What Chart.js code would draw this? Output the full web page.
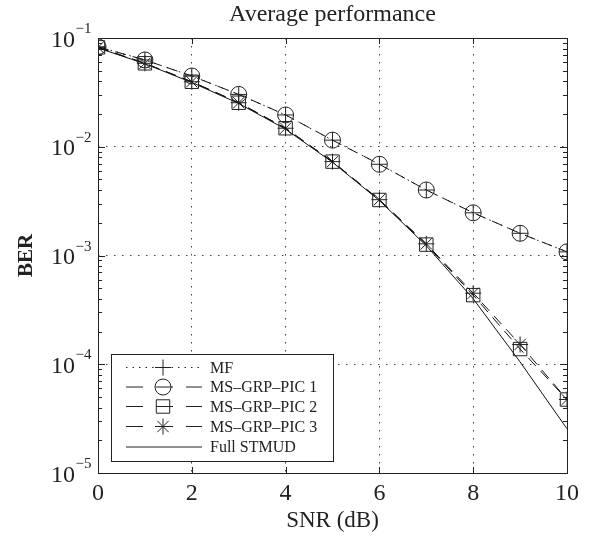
<!DOCTYPE html>
<html>
<head>
<meta charset="utf-8">
<script src="https://cdn.jsdelivr.net/npm/chart.js@4.4.0/dist/chart.umd.min.js"></script>
<style>
  body { margin: 0; background: #fff; }
  #wrap { width: 589px; height: 537px; position: relative; }
</style>
</head>
<body>
<div id="wrap"><canvas id="c"></canvas></div>
<script>
// SNR points (dB)
const snr = [0, 1, 2, 3, 4, 5, 6, 7, 8, 9, 10];
// BER
const berMF    = [0.083, 0.0628, 0.0447, 0.0303, 0.0196, 0.0115, 0.0069, 0.0040, 0.00247, 0.0016, 0.00108];
const berPIC1  = [0.083, 0.0628, 0.0447, 0.0303, 0.0196, 0.0115, 0.0069, 0.0040, 0.00247, 0.0016, 0.00108];
const berPIC2  = [0.082, 0.0585, 0.0396, 0.0254, 0.0148, 0.0073, 0.00324, 0.00126, 0.000432, 0.000138, 0.0000474];
const berPIC3  = [0.082, 0.0585, 0.0396, 0.0254, 0.0148, 0.0073, 0.00326, 0.00128, 0.00045, 0.000152, 0.0000474];
const berFull  = [0.081, 0.058, 0.039, 0.025, 0.0145, 0.0072, 0.0032, 0.00123, 0.00040, 0.000105, 0.0000255];
const seriesNames = ['MF', 'MS\u2013GRP\u2013PIC 1', 'MS\u2013GRP\u2013PIC 2', 'MS\u2013GRP\u2013PIC 3', 'Full STMUD'];
const xTicks = [0, 2, 4, 6, 8, 10];
const yDecades = [-5, -4, -3, -2, -1];

const SERIF = "'Liberation Serif', 'Times New Roman', serif";

function pts(ys) { return snr.map((x, i) => ({ x, y: ys[i] })); }

function ds(label, ys, dash, style, r) {
  return {
    label, data: pts(ys), borderColor: '#111', borderWidth: 1, borderDash: dash,
    pointStyle: style, pointRadius: r, pointHoverRadius: r, pointBorderWidth: 1,
    pointBorderColor: '#222', pointBackgroundColor: 'rgba(0,0,0,0)', tension: 0, fill: false
  };
}

const styles = [
  { dash: [1.5, 5], style: 'cross', r: 8 },
  { dash: [11, 7], style: 'circle', r: 8 },
  { dash: [11, 7], style: 'rect', r: 9.5 },
  { dash: [11, 7], style: 'star', r: 8 },
  { dash: [], style: false, r: 0 }
];
const allSeries = [berMF, berPIC1, berPIC2, berPIC3, berFull];

const isDecade = v => Math.abs(Math.log10(v) - Math.round(Math.log10(v))) < 1e-6;

const framePlugin = {
  id: 'frame',
  afterDraw(chart) {
    const { ctx, chartArea: a, scales } = chart;
    const xs = scales.x, ys = scales.y;
    ctx.save();
    ctx.strokeStyle = '#222';
    ctx.lineWidth = 1;
    ctx.setLineDash([]);
    ctx.strokeRect(a.left + 0.5, a.top + 0.5, a.right - a.left, a.bottom - a.top);
    ctx.beginPath();
    xTicks.forEach(t => {
      const px = Math.round(xs.getPixelForValue(t)) + 0.5;
      ctx.moveTo(px, a.bottom); ctx.lineTo(px, a.bottom - 6);
      ctx.moveTo(px, a.top); ctx.lineTo(px, a.top + 6);
    });
    yDecades.forEach(e => {
      for (let m = 1; m < 10; m++) {
        if (e === -1 && m > 1) break;
        const py = Math.round(ys.getPixelForValue(m * Math.pow(10, e))) + 0.5;
        const len = m === 1 ? 7 : 4;
        ctx.moveTo(a.left, py); ctx.lineTo(a.left + len, py);
        ctx.moveTo(a.right, py); ctx.lineTo(a.right - len, py);
      }
    });
    ctx.stroke();

    // y tick labels with superscript exponents
    ctx.fillStyle = '#222';
    yDecades.forEach(e => {
      const py = ys.getPixelForValue(Math.pow(10, e));
      ctx.font = '24px ' + SERIF;
      ctx.textAlign = 'right';
      ctx.textBaseline = 'alphabetic';
      ctx.fillText('10', 75, py + 8.5);
      ctx.font = '15px ' + SERIF;
      ctx.textAlign = 'left';
      ctx.fillText('\u2212' + Math.abs(e), 75.5, py - 5);
    });

    // legend
    const lx = 111, ly = 354, lw = 222, lh = 107;
    ctx.fillStyle = '#fff';
    ctx.fillRect(lx, ly, lw, lh);
    ctx.strokeStyle = '#222';
    ctx.strokeRect(lx + 0.5, ly + 0.5, lw, lh);
    const rowY = [367.5, 387, 406.5, 426.5, 447];
    seriesNames.forEach((name, i) => {
      const s = styles[i];
      const y = rowY[i];
      ctx.save();
      ctx.strokeStyle = '#222';
      ctx.lineWidth = 1;
      ctx.setLineDash(i === 0 ? [1.5, 5] : (i < 4 ? [17, 13] : []));
      ctx.beginPath();
      ctx.moveTo(126, y); ctx.lineTo(202, y);
      ctx.stroke();
      ctx.restore();
      if (s.style) {
        ctx.save();
        ctx.strokeStyle = '#222';
        ctx.fillStyle = 'rgba(0,0,0,0)';
        ctx.lineWidth = 1;
        Chart.helpers.drawPoint(ctx, { pointStyle: s.style, radius: s.r, borderWidth: 1 }, 163, y);
        ctx.restore();
      }
      ctx.fillStyle = '#222';
      ctx.font = '16px ' + SERIF;
      ctx.textAlign = 'left';
      ctx.textBaseline = 'middle';
      ctx.fillText(name, 210, y + 1);
    });
    ctx.restore();
  }
};

new Chart(document.getElementById('c'), {
  type: 'line',
  data: {
    datasets: allSeries.map((ys, i) => ds(seriesNames[i], ys, styles[i].dash, styles[i].style, styles[i].r))
  },
  options: {
    responsive: true,
    maintainAspectRatio: false,
    animation: false,
    layout: { padding: { left: 0, right: 22, top: 0, bottom: 0 } },
    plugins: {
      legend: { display: false },
      tooltip: { enabled: false },
      title: {
        display: true, text: 'Average performance', color: '#222', fullSize: false,
        font: { family: SERIF, size: 24, weight: 'normal' },
        padding: { top: 0, bottom: 9.2 }
      }
    },
    scales: {
      x: {
        type: 'linear', min: 0, max: 10,
        afterFit: s => { s.height = 64; },
        ticks: { stepSize: 2, color: '#222', padding: 6, font: { family: SERIF, size: 24 } },
        grid: {
          drawTicks: false,
          color: c => (c.tick && c.tick.value > 0 && c.tick.value < 10) ? '#444' : 'rgba(0,0,0,0)',
          lineWidth: 1
        },
        border: { display: false, dash: [1.5, 6.5] },
        title: {
          display: true, text: 'SNR (dB)', color: '#222',
          font: { family: SERIF, size: 23 }, padding: { top: 2, bottom: 2 }
        }
      },
      y: {
        type: 'logarithmic', min: 1e-5, max: 1e-1,
        afterFit: s => { s.width = 98; },
        ticks: { display: false, callback: v => isDecade(v) ? '' : '' },
        grid: {
          drawTicks: false,
          color: c => {
            const v = c.tick && c.tick.value;
            return (v && isDecade(v) && v > 1.5e-5 && v < 0.09) ? '#444' : 'rgba(0,0,0,0)';
          },
          lineWidth: 1
        },
        border: { display: false, dash: [1.5, 6.5] },
        title: {
          display: true, text: 'BER', color: '#222',
          font: { family: SERIF, size: 21, weight: 'bold' }, padding: { top: 14, bottom: 14 }
        }
      }
    }
  },
  plugins: [framePlugin]
});
</script>
</body>
</html>
